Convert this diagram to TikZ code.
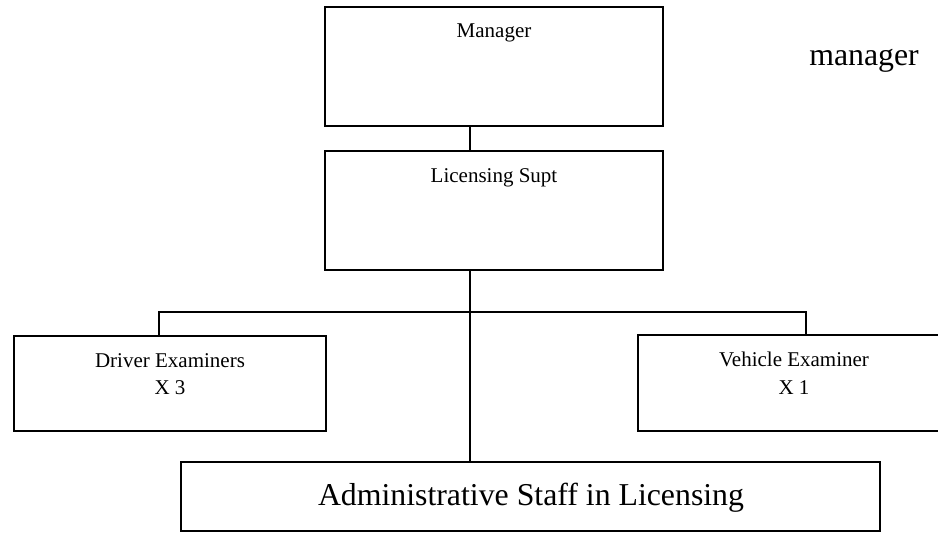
\documentclass[tikz,border=0pt]{standalone}
\usepackage{fontspec}
\setmainfont{Liberation Serif}
\begin{document}
\begin{tikzpicture}[x=1pt,y=-1pt,
  box/.style={draw=black, line width=1.6pt, rectangle, inner sep=0pt, outer sep=0pt},
  wire/.style={draw=black, line width=1.6pt},
  small/.style={font=\fontsize{21}{25}\selectfont, inner sep=0pt, anchor=base, align=center},
  big/.style={font=\fontsize{31.8}{36}\selectfont, inner sep=0pt, anchor=base}]
\useasboundingbox (0,0) rectangle (938,533);
\clip (0,0) rectangle (938,533);

% boxes
\node[box, minimum width=338, minimum height=119] (mgr) at (494,66.5) {};
\node[box, minimum width=338, minimum height=119] (lic) at (494,210.5) {};
\node[box, minimum width=312, minimum height=95] (drv) at (170,383.5) {};
\node[box, minimum width=312, minimum height=96] (veh) at (794,383) {};
\node[box, minimum width=699, minimum height=69] (adm) at (530.5,496.5) {};

% labels
\node[small] (tmgr) at (494,37) {Manager};
\node[small] (tlic) at (494,182) {Licensing Supt};
\node[small] (tdrv1) at (170,367) {Driver Examiners};
\node[small] (tdrv2) at (170,394) {X 3};
\node[small] (tveh1) at (794,366) {Vehicle Examiner};
\node[small] (tveh2) at (794,394) {X 1};
\node[big] (tadm) at (531,505) {Administrative Staff in Licensing};
\node[big] (tside) at (864,65) {manager};

% connectors
\coordinate (trunk) at (470,0);
\coordinate (busL) at (159,312);
\coordinate (busR) at (806,312);
\draw[wire] (mgr.south -| trunk) -- (lic.north -| trunk);
\draw[wire] (lic.south -| trunk) -- (adm.north -| trunk);
\draw[wire] (drv.north -| busL) -- (busL) -- (busR) -- (veh.north -| busR);
\end{tikzpicture}
\end{document}
